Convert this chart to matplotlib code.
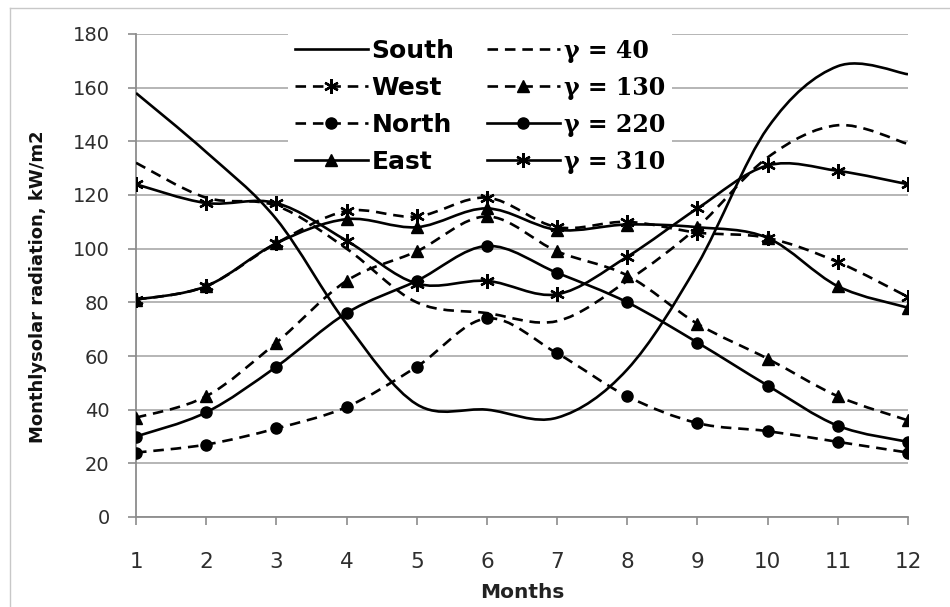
import numpy as np
import matplotlib
matplotlib.use("Agg")
import matplotlib.pyplot as plt
from matplotlib.path import Path
from matplotlib.patches import PathPatch
from matplotlib.lines import Line2D

# monthly values, kW/m2
months = list(range(1, 13))
south = [158, 136, 111, 72, 42, 40, 37, 55, 94, 145, 168, 165]
west = [81, 86, 102, 114, 112, 119, 108, 110, 106, 104, 95, 82]
north = [24, 27, 33, 41, 56, 74, 61, 45, 35, 32, 28, 24]
east = [81, 86, 102, 111, 108, 115, 107, 109, 108, 104, 86, 78]
g40 = [132, 119, 116, 100, 80, 76, 73, 88, 108, 134, 146, 139]
g130 = [37, 45, 65, 88, 99, 112, 99, 90, 72, 59, 45, 36]
g220 = [30, 39, 56, 76, 88, 101, 91, 80, 65, 49, 34, 28]
g310 = [124, 117, 117, 103, 87, 88, 83, 97, 115, 131, 129, 124]

labels = ["South", "West", "North", "East",
          "γ = 40", "γ = 130", "γ = 220", "γ = 310"]

STAR = (6, 2, 0)
DASH = (0, (4, 2.6))
# (values, linestyle, marker, markersize)
styles = [
    (south, "-", None, 0),
    (west, DASH, STAR, 10.5),
    (north, DASH, "o", 8),
    (east, "-", "^", 9),
    (g40, DASH, None, 0),
    (g130, DASH, "^", 9),
    (g220, "-", "o", 8),
    (g310, "-", STAR, 10.5),
]


def smooth_path(xs, ys):
    # excel-like smoothed line: cubic bezier through every data point
    p = np.column_stack([xs, ys]).astype(float)
    ext = np.vstack([p[0], p, p[-1]])
    verts = [p[0]]
    codes = [Path.MOVETO]
    for i in range(len(p) - 1):
        p0, p1, p2, p3 = ext[i], ext[i + 1], ext[i + 2], ext[i + 3]
        c1 = p1 + (p2 - p0) / 6.0
        c2 = p2 - (p3 - p1) / 6.0
        verts += [c1, c2, p2]
        codes += [Path.CURVE4] * 3
    return Path(verts, codes)


fig = plt.figure(figsize=(9.5, 6.07), dpi=100)
ax = fig.add_axes([136 / 950, 1 - 517 / 607, (908 - 136) / 950, (517 - 34) / 607])

LW = 1.9
handles = []
for (vals, ls, mk, ms), lab in zip(styles, labels):
    mew = 1.7 if mk == STAR else 1
    patch = PathPatch(smooth_path(months, vals), fill=False, lw=LW,
                      linestyle=ls, edgecolor="black", zorder=3,
                      capstyle="butt")
    ax.add_patch(patch)
    if mk is not None:
        ax.plot(months, vals, linestyle="none", marker=mk, markersize=ms,
                color="black", markeredgewidth=mew, zorder=4)
    handles.append(Line2D([], [], color="black", lw=LW, linestyle=ls,
                          marker=mk, markersize=ms, markeredgewidth=mew))

ax.set_xlim(1, 12)
ax.set_ylim(0, 180)
ax.set_xticks(months)
ax.set_yticks(range(0, 181, 20))
ax.yaxis.grid(True, color="#b0b0b0", lw=1.3)
ax.set_axisbelow(True)
for s in ["top", "right"]:
    ax.spines[s].set_visible(False)
for s in ["left", "bottom"]:
    ax.spines[s].set_color("#8c8c8c")
    ax.spines[s].set_linewidth(1.3)
ax.tick_params(axis="both", colors="#8c8c8c", length=6, width=1.2)
ax.tick_params(axis="y", labelsize=14, labelcolor="#2e2e2e", pad=13)
ax.tick_params(axis="x", labelsize=15.5, labelcolor="#2e2e2e", pad=19)

ax.set_xlabel("Months", fontsize=14.5, fontweight="bold", color="#222222")
ax.xaxis.set_label_coords(0.5, -0.137)
ax.set_ylabel("Monthlysolar radiation, kW/m2", fontsize=13,
              fontweight="bold", color="#111111")
ax.yaxis.set_label_coords(-0.115, 0.476)

leg = fig.legend(handles, labels, ncol=2, loc="upper left",
                 bbox_to_anchor=(275 / 950, 1 - 19 / 607),
                 frameon=True, facecolor="white", edgecolor="none",
                 framealpha=1, fancybox=False, handlelength=2.9,
                 handletextpad=0.16, columnspacing=1.3, labelspacing=0.52,
                 borderpad=0.3, prop={"size": 18, "weight": "bold"})
for i, t in enumerate(leg.get_texts()):
    if i >= 4:
        t.set_fontfamily("DejaVu Serif")
        t.set_fontsize(17)

# faint outer frame of the chart area
fig.add_artist(Line2D([0.0105, 0.0105], [0, 0.987], color="#c8c8c8", lw=1,
                      transform=fig.transFigure))
fig.add_artist(Line2D([0.0105, 1], [0.987, 0.987], color="#c8c8c8", lw=1,
                      transform=fig.transFigure))

fig.savefig("out.png", dpi=100, facecolor="white")
